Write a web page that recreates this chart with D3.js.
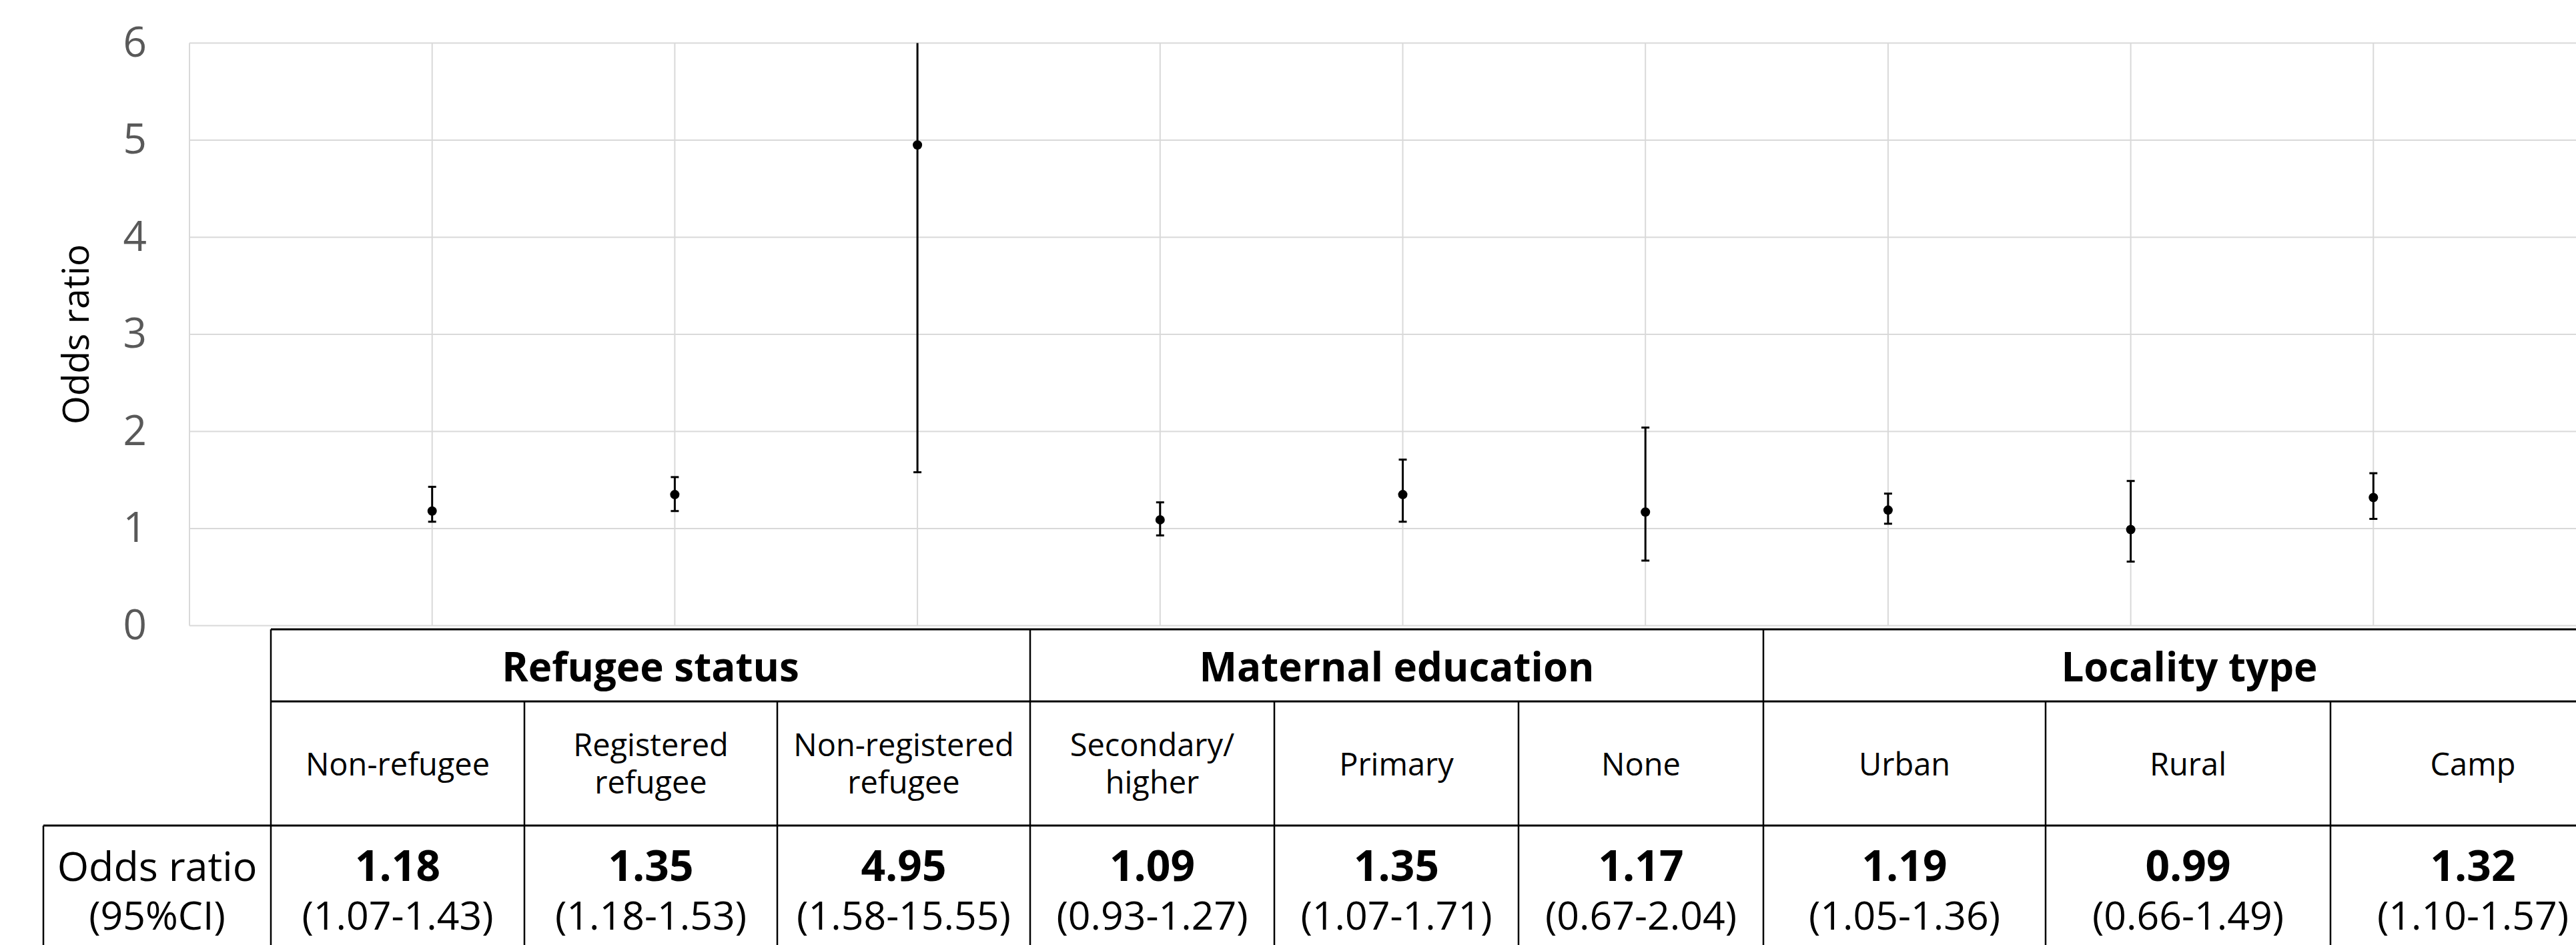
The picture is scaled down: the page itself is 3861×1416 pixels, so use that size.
<!DOCTYPE html>
<html>
<head>
<meta charset="utf-8">
<script src="https://cdn.jsdelivr.net/npm/d3@7"></script>
<style>
  body { margin: 0; background: #fff; }
  svg { display: block; font-family: "Segoe UI", "Open Sans", sans-serif; }
</style>
</head>
<body>
<svg id="chart"></svg>
<script>
// Data
const groups = ["Refugee status", "Maternal education", "Locality type"];
const categories = [
  ["Non-refugee"], ["Registered", "refugee"], ["Non-registered", "refugee"],
  ["Secondary/", "higher"], ["Primary"], ["None"],
  ["Urban"], ["Rural"], ["Camp"]
];
const groupOf = [0, 0, 0, 1, 1, 1, 2, 2, 2];
const oddsRatio = [1.18, 1.35, 4.95, 1.09, 1.35, 1.17, 1.19, 0.99, 1.32];
const ciLower = [1.07, 1.18, 1.58, 0.93, 1.07, 0.67, 1.05, 0.66, 1.10];
const ciUpper = [1.43, 1.53, 15.55, 1.27, 1.71, 2.04, 1.36, 1.49, 1.57];
const yTicks = [0, 1, 2, 3, 4, 5, 6];

// Layout
const W = 3861, H = 1416;
const plot = { left: 284, right: 3921, top: 64.5, bottom: 937.5 };
const grid = "#d9d9d9";

const svg = d3.select("#chart").attr("width", W).attr("height", H);
svg.append("rect").attr("width", W).attr("height", H).attr("fill", "#fff");

// scales
const x = d3.scaleLinear().domain([0, categories.length + 1]).range([plot.left, plot.right]);
const y = d3.scaleLinear().domain([0, 6]).range([plot.bottom, plot.top]);

// gridlines
svg.append("g").selectAll("line").data(yTicks).join("line")
  .attr("x1", plot.left).attr("x2", plot.right)
  .attr("y1", d => y(d)).attr("y2", d => y(d))
  .attr("stroke", grid).attr("stroke-width", 2);
svg.append("g").selectAll("line").data(d3.range(0, categories.length + 1)).join("line")
  .attr("x1", d => x(d)).attr("x2", d => x(d))
  .attr("y1", plot.top).attr("y2", plot.bottom)
  .attr("stroke", grid).attr("stroke-width", 2);

// y axis labels
const yAxis = svg.append("g")
  .attr("transform", `translate(${plot.left - 64},0)`)
  .call(d3.axisLeft(y).tickValues(yTicks).tickFormat(d3.format("d")).tickSize(0).tickPadding(0));
yAxis.select(".domain").remove();
yAxis.selectAll("text")
  .attr("font-size", 62).attr("fill", "#595959")
  .attr("font-family", "'Segoe UI', 'Open Sans', sans-serif");

svg.append("text")
  .attr("transform", `translate(133,${(plot.top + plot.bottom) / 2}) rotate(-90)`)
  .attr("text-anchor", "middle")
  .attr("font-size", 55).attr("fill", "#000")
  .text("Odds ratio");

// error bars
svg.append("clipPath").attr("id", "plotclip")
  .append("rect").attr("x", plot.left).attr("y", plot.top)
  .attr("width", plot.right - plot.left).attr("height", plot.bottom - plot.top);

const marks = svg.append("g").attr("clip-path", "url(#plotclip)");
const pts = oddsRatio.map((v, i) => ({ i, v, lo: ciLower[i], hi: ciUpper[i] }));

marks.selectAll("line.bar").data(pts).join("line").attr("class", "bar")
  .attr("x1", d => x(d.i + 1)).attr("x2", d => x(d.i + 1))
  .attr("y1", d => y(d.lo)).attr("y2", d => y(Math.min(d.hi, 6.2)))
  .attr("stroke", "#000").attr("stroke-width", 3);

const caps = pts.flatMap(d => [d.lo, d.hi].filter(v => v <= 6).map(v => ({ i: d.i, v })));
marks.selectAll("line.cap").data(caps).join("line").attr("class", "cap")
  .attr("x1", d => x(d.i + 1) - 6).attr("x2", d => x(d.i + 1) + 6)
  .attr("y1", d => y(d.v)).attr("y2", d => y(d.v))
  .attr("stroke", "#000").attr("stroke-width", 3);

marks.selectAll("circle").data(pts).join("circle")
  .attr("cx", d => x(d.i + 1)).attr("cy", d => y(d.v)).attr("r", 7)
  .attr("fill", "#000");

// table under the plot
const colEdges = [406, 786, 1165, 1544, 1910, 2276, 2643, 3066, 3493, 3920];
const labelLeft = 65;
const rowY = [943, 1051, 1237, H + 10];
const tbl = svg.append("g").attr("stroke", "#000");

// horizontal rules
tbl.append("line").attr("x1", colEdges[0]).attr("x2", W).attr("y1", rowY[0]).attr("y2", rowY[0]).attr("stroke-width", 3);
tbl.append("line").attr("x1", colEdges[0]).attr("x2", W).attr("y1", rowY[1]).attr("y2", rowY[1]).attr("stroke-width", 3);
tbl.append("line").attr("x1", labelLeft).attr("x2", W).attr("y1", rowY[2]).attr("y2", rowY[2]).attr("stroke-width", 3);

// vertical rules
const groupStart = groups.map((g, k) => groupOf.indexOf(k));
const groupEnd = groups.map((g, k) => groupOf.lastIndexOf(k) + 1);
tbl.append("line").attr("x1", labelLeft).attr("x2", labelLeft).attr("y1", rowY[2]).attr("y2", rowY[3]).attr("stroke-width", 2.5);
colEdges.forEach((cx, j) => {
  const isGroupEdge = groupStart.includes(j) || j === colEdges.length - 1;
  tbl.append("line").attr("x1", cx).attr("x2", cx)
    .attr("y1", isGroupEdge ? rowY[0] : rowY[1]).attr("y2", rowY[3])
    .attr("stroke-width", 2.5);
});

// group headers
svg.append("g").selectAll("text").data(groups).join("text")
  .attr("x", (g, k) => (colEdges[groupStart[k]] + colEdges[groupEnd[k]]) / 2)
  .attr("y", 1021)
  .attr("text-anchor", "middle").attr("font-size", 60).attr("font-weight", "bold")
  .text(d => d);

// category labels
const colMid = i => (colEdges[i] + colEdges[i + 1]) / 2;
const catText = svg.append("g").selectAll("text").data(categories).join("text")
  .attr("text-anchor", "middle").attr("font-size", 47)
  .attr("y", d => d.length === 1 ? 1162 : 1133);
catText.selectAll("tspan").data((d, i) => d.map(s => ({ s, i }))).join("tspan")
  .attr("x", d => colMid(d.i))
  .attr("dy", (d, k) => k === 0 ? 0 : 56)
  .text(d => d.s);

// odds ratio row
const lab = svg.append("text").attr("text-anchor", "middle");
lab.append("tspan").attr("x", (labelLeft + colEdges[0]) / 2).attr("y", 1320).attr("font-size", 61).text("Odds ratio");
lab.append("tspan").attr("x", (labelLeft + colEdges[0]) / 2).attr("y", 1393).attr("font-size", 59).text("(95%CI)");

svg.append("g").selectAll("text").data(pts).join("text")
  .attr("x", d => colMid(d.i)).attr("y", 1320)
  .attr("text-anchor", "middle").attr("font-size", 64).attr("font-weight", "bold")
  .text(d => d.v.toFixed(2));
svg.append("g").selectAll("text").data(pts).join("text")
  .attr("x", d => colMid(d.i)).attr("y", 1393)
  .attr("text-anchor", "middle").attr("font-size", 59)
  .text(d => `(${d.lo.toFixed(2)}-${d.hi.toFixed(2)})`);
</script>
</body>
</html>
